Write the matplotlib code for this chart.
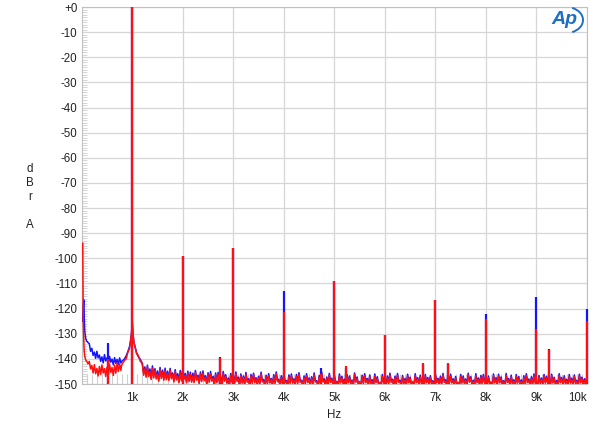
import numpy as np
import matplotlib.pyplot as plt
from matplotlib.patches import Arc

plt.rcParams['font.family'] = ['Liberation Sans', 'DejaVu Sans']

# 低频段 (Hz, dBrA)
freq_lo = [20, 25, 30, 40, 45, 50, 60, 80, 100, 125]
red_lo = [-94, -112, -125, -132, -135, -137, -139, -140.5, -141, -142]
blue_lo = [-125, -122, -119, -116.5, -118, -124, -129, -132, -133, -133.5]

# 150..750 Hz，步长 50：噪声上沿 / 下沿
red_a = [-141.0, -142.6, -142.3, -143.8, -143.0, -142.4, -143.9, -143.3,
         -142.0, -143.4, -142.5, -141.6, -142.0]
red_a_low = [-144.0, -145.6, -145.9, -146.8, -146.2, -145.6, -147.0, -146.5,
             -145.4, -146.6, -145.7, -145.0, -144.6]
blue_a = [-134.0, -135.8, -137.3, -137.0, -138.5, -139.2, -138.3, -139.6,
          -139.0, -140.1, -139.5, -140.2, -139.6]
blue_a_low = [-137.0, -138.6, -139.8, -139.6, -141.0, -141.6, -140.8, -142.0,
              -141.3, -142.4, -141.8, -142.3, -141.6]

# 1 kHz 基波裙边
skirt_freq = [790, 840, 880, 915, 945, 968, 985, 995, 1000, 1005, 1015, 1032, 1055, 1085, 1120, 1160, 1190]
red_skirt = [-142.5, -140.8, -140.0, -137.2, -136.0, -132.8, -130.3, -127.0, -125.0,
             -127.2, -130.0, -133.5, -135.0, -138.0, -138.6, -141.0, -141.6]
blue_skirt = [-141.0, -140.2, -138.8, -137.0, -135.2, -132.6, -130.0, -127.0, -125.0,
              -127.0, -130.0, -133.2, -135.3, -137.4, -139.2, -140.2, -141.5]

# 1200..10000 Hz，步长 50：噪声上沿
red_b = [-142.5, -144.0, -143.2, -145.1, -143.8, -144.6, -146.0, -144.2, -145.3, -144.7,
         -145.8, -144.6, -146.3, -145.0, -146.9, -145.4, -144.9, -146.6, -145.7, -146.2,
         -146.8, -145.3, -147.2, -146.0, -145.6, -147.5, -146.3, -145.9, -147.8, -146.4,
         -146.1, -147.9, -145.8, -147.0, -148.2, -146.5, -147.3, -145.9, -148.0, -146.7,
         -147.4, -146.2, -148.5, -147.0, -146.3, -148.1, -147.6, -146.0, -148.8, -147.2,
         -146.6, -148.3, -147.1, -145.9, -148.6, -147.4, -146.5, -149.0, -147.2, -146.8,
         -148.4, -147.0, -146.2, -148.9, -147.5, -146.7, -148.2, -147.8, -146.4, -149.1,
         -147.3, -146.1, -148.6, -147.9, -146.5, -148.3, -147.0, -149.2, -146.8, -147.6,
         -148.7, -146.9, -147.4, -148.8, -146.3, -147.9, -149.0, -147.2, -146.6, -148.4,
         -147.1, -148.9, -146.7, -147.8, -149.3, -146.9, -148.2, -147.5, -146.4, -148.7,
         -147.6, -146.5, -149.1, -147.3, -148.4, -146.8, -147.9, -149.0, -146.6, -148.1,
         -147.2, -148.8, -146.9, -148.0, -147.4, -149.2, -146.7, -148.3, -147.6, -146.5,
         -148.9, -147.1, -146.8, -148.5, -147.7, -149.3, -146.9, -147.5, -148.6, -146.4,
         -147.8, -149.0, -146.6, -148.2, -147.3, -146.9, -148.8, -147.5, -149.1, -146.7,
         -148.1, -146.8, -147.9, -149.2, -146.5, -148.4, -147.2, -148.9, -146.9, -147.7,
         -149.0, -147.4, -146.6, -148.6, -147.8, -146.7, -149.1, -147.3, -148.2, -146.9,
         -147.6, -148.8, -146.8, -147.9, -149.2, -146.6, -148.0, -147.4, -148.7, -146.9,
         -148.3, -147.1, -149.0, -146.8, -147.9, -148.5, -147.2]
# 噪声下沿
red_b_low = [-146.5, -147.3, -147.0, -148.2, -147.6, -148.0, -148.9, -147.8, -148.5, -148.3,
             -148.6, -147.9, -149.2, -148.4, -149.5, -148.8, -148.1, -149.6, -149.0, -149.3,
             -149.4, -148.5, -149.8, -149.0, -148.7, -150.2, -149.3, -148.9, -150.4, -149.5,
             -149.1, -150.3, -148.9, -149.8, -150.5, -149.4, -150.0, -149.0, -150.6, -149.7,
             -150.2, -149.3, -150.7, -149.8, -149.5, -150.4, -150.0, -149.2, -150.8, -149.9,
             -149.6, -150.5, -149.9, -149.1, -150.6, -150.1, -149.4, -150.9, -149.8, -149.7,
             -150.4, -149.8, -149.3, -150.8, -150.0, -149.5, -150.3, -150.1, -149.2, -150.9,
             -150.0, -149.2, -150.6, -150.2, -149.4, -150.5, -149.9, -150.9, -149.6, -150.1,
             -150.7, -149.6, -150.0, -150.8, -149.3, -150.3, -150.9, -149.9, -149.5, -150.5,
             -149.9, -150.8, -149.5, -150.2, -150.9, -149.7, -150.4, -150.0, -149.3, -150.7,
             -150.1, -149.4, -150.9, -149.9, -150.5, -149.6, -150.2, -150.8, -149.5, -150.3,
             -149.8, -150.7, -149.6, -150.3, -150.0, -150.9, -149.5, -150.4, -150.1, -149.4,
             -150.8, -149.9, -149.6, -150.5, -150.1, -150.9, -149.7, -150.0, -150.6, -149.3,
             -150.2, -150.9, -149.5, -150.4, -149.9, -149.7, -150.7, -150.0, -150.9, -149.6,
             -150.4, -149.6, -150.2, -150.9, -149.4, -150.5, -149.9, -150.8, -149.7, -150.1,
             -150.9, -150.0, -149.5, -150.6, -150.2, -149.6, -150.9, -149.9, -150.4, -149.7,
             -150.1, -150.8, -149.6, -150.2, -150.9, -149.5, -150.3, -150.0, -150.7, -149.7,
             -150.5, -149.8, -150.9, -149.6, -150.2, -150.6, -149.9]
blue_b = [-141.6, -143.2, -142.5, -144.0, -142.8, -143.9, -144.8, -143.4, -144.5, -143.7,
          -144.9, -143.8, -145.6, -144.3, -145.9, -144.6, -144.1, -145.8, -144.9, -145.3,
          -145.7, -144.6, -146.5, -145.2, -144.8, -146.7, -145.5, -145.0, -147.0, -145.6,
          -145.4, -147.1, -145.0, -146.3, -147.6, -145.8, -146.6, -145.2, -147.3, -146.0,
          -146.8, -145.4, -147.9, -146.2, -145.7, -147.5, -146.9, -145.3, -148.2, -146.5,
          -145.9, -147.8, -146.3, -145.2, -148.1, -146.7, -145.8, -148.6, -146.4, -146.0,
          -147.9, -146.2, -145.5, -148.5, -146.8, -145.9, -147.6, -147.1, -145.6, -148.7,
          -146.6, -145.3, -148.0, -147.2, -145.8, -147.7, -146.3, -148.9, -146.0, -146.9,
          -148.1, -146.2, -146.8, -148.4, -145.6, -147.2, -149.6, -146.5, -145.9, -147.8,
          -146.4, -148.3, -146.0, -147.1, -149.8, -146.2, -147.6, -146.8, -145.7, -148.1,
          -146.9, -145.8, -148.5, -146.6, -147.8, -146.1, -147.3, -149.7, -145.9, -147.5,
          -146.5, -148.2, -146.2, -147.4, -146.7, -148.7, -146.0, -147.7, -146.9, -145.8,
          -148.3, -146.4, -146.1, -147.9, -147.0, -149.8, -146.2, -146.8, -148.0, -145.7,
          -147.1, -148.5, -145.9, -147.6, -146.6, -146.2, -148.2, -146.8, -149.6, -146.0,
          -147.5, -146.1, -147.2, -148.7, -145.8, -147.8, -146.5, -148.3, -146.2, -147.0,
          -148.4, -146.7, -145.9, -148.0, -147.1, -146.0, -149.7, -146.6, -147.6, -146.2,
          -146.9, -148.2, -146.1, -147.3, -148.6, -145.9, -147.4, -146.7, -148.1, -146.2,
          -147.7, -146.4, -148.5, -146.1, -147.3, -147.9, -146.5]
blue_b_low = [-145.8, -146.9, -146.4, -147.6, -146.8, -147.5, -148.3, -147.1, -148.0, -147.6,
              -148.1, -147.3, -148.7, -147.9, -149.0, -148.2, -147.6, -149.1, -148.5, -148.8,
              -148.9, -147.9, -149.4, -148.5, -148.1, -149.7, -148.8, -148.3, -150.0, -149.0,
              -148.6, -149.9, -148.3, -149.3, -150.2, -148.9, -149.5, -148.4, -150.3, -149.2,
              -149.8, -148.7, -150.4, -149.3, -148.9, -150.0, -149.6, -148.6, -150.6, -149.4,
              -149.1, -150.2, -149.4, -148.5, -150.3, -149.6, -148.9, -150.7, -149.3, -149.2,
              -150.0, -149.3, -148.7, -150.5, -149.5, -148.9, -149.9, -149.6, -148.6, -150.7,
              -149.5, -148.6, -150.3, -149.8, -148.8, -150.1, -149.4, -150.7, -149.0, -149.6,
              -150.4, -149.0, -149.5, -150.5, -148.7, -149.9, -150.7, -149.4, -148.9, -150.2,
              -149.4, -150.5, -149.0, -149.8, -150.7, -149.2, -150.0, -149.5, -148.7, -150.4,
              -149.7, -148.9, -150.6, -149.4, -150.1, -149.1, -149.8, -150.6, -148.9, -149.9,
              -149.3, -150.4, -149.1, -149.9, -149.5, -150.7, -149.0, -150.0, -149.6, -148.8,
              -150.5, -149.4, -149.1, -150.2, -149.7, -150.8, -149.2, -149.5, -150.3, -148.8,
              -149.8, -150.6, -149.0, -150.0, -149.4, -149.2, -150.4, -149.5, -150.7, -149.1,
              -150.1, -149.1, -149.8, -150.7, -148.9, -150.2, -149.4, -150.5, -149.2, -149.7,
              -150.6, -149.5, -149.0, -150.3, -149.8, -149.1, -150.7, -149.4, -150.0, -149.2,
              -149.6, -150.5, -149.1, -149.9, -150.6, -149.0, -150.0, -149.5, -150.4, -149.2,
              -150.2, -149.3, -150.6, -149.1, -149.8, -150.3, -149.4]

# 谐波与杂散尖峰
harm_freq = [530, 1000, 2000, 2730, 3000, 4000, 4730, 5000, 5240, 6000,
             6750, 7000, 7250, 8000, 9000, 9250, 10000]
harm_red = [-140, 0, -99, -139.5, -96, -121.5, -146, -109, -143, -130.5,
            -141.5, -116.5, -141.7, -124, -128, -136.5, -125]
harm_blue = [-133.7, 0, -99, -139.3, -96, -112.8, -143.5, -109, -143.5, -130.5,
             -142, -116.5, -142, -122.3, -115.5, -136, -120]

xtick_vals = [1000, 2000, 3000, 4000, 5000, 6000, 7000, 8000, 9000, 10000]
xtick_labels = ['1k', '2k', '3k', '4k', '5k', '6k', '7k', '8k', '9k', '10k']
ytick_vals = list(range(0, -151, -10))
ytick_labels = ['+0'] + [str(v) for v in ytick_vals[1:]]


def band(f, hi, lo):
    # 上沿与下沿交替，形成噪声带
    x = np.column_stack([f, np.asarray(f) + 25]).ravel()
    y = np.column_stack([hi, lo]).ravel()
    return x, y


freq_a = np.arange(150, 800, 50)
freq_b = np.arange(1200, 10001, 50)
xa, ra = band(freq_a, red_a, red_a_low)
xb, rb = band(freq_b, red_b, red_b_low)
_, ba = band(freq_a, blue_a, blue_a_low)
_, bb = band(freq_b, blue_b, blue_b_low)

freq = np.concatenate([freq_lo, xa, skirt_freq, xb])
red = np.concatenate([red_lo, ra, red_skirt, rb])
blue = np.concatenate([blue_lo, ba, blue_skirt, bb])

c_blue = '#1414ff'
c_red = '#ff1010'

fig = plt.figure(figsize=(6, 4.28), dpi=100)
ax = fig.add_axes([0.1362, 0.1028, 0.8421, 0.8808])

ax.plot(freq, blue, color=c_blue, lw=1.1, zorder=3)
ax.vlines(harm_freq, -150, harm_blue, color=c_blue, lw=1.6, clip_on=False, zorder=3)
ax.plot(freq, red, color=c_red, lw=1.1, zorder=4)
ax.vlines(harm_freq, -150, harm_red, color=c_red, lw=1.6, clip_on=False, zorder=4)

ax.set_xlim(0, 10000)
ax.set_ylim(-150, 0)

ax.set_xticks(xtick_vals)
ax.set_xticklabels(xtick_labels)
ax.get_xticklabels()[-1].set_horizontalalignment('right')
ax.set_yticks(ytick_vals)
ax.set_yticklabels(ytick_labels)
ax.set_xticks(np.arange(100, 10000, 100), minor=True)
ax.set_yticks(np.arange(-150, 0, 1), minor=True)

ax.tick_params(which='major', length=0, labelsize=8.3, labelcolor='#222222')
ax.tick_params(axis='x', which='major', pad=6)
ax.tick_params(axis='y', which='major', pad=3)
ax.tick_params(axis='x', which='minor', direction='in', length=7, width=0.8, color='#cfcfcf')
ax.tick_params(axis='y', which='minor', direction='in', length=3.5, width=0.6, color='#cfcfcf')
ax.grid(True, which='major', color='#d6d6d6', lw=0.9)
ax.set_axisbelow(True)
for s in ax.spines.values():
    s.set_color('#c0c0c0')
    s.set_zorder(1)

fig.text(334 / 600, 1 - 415 / 428, 'Hz', ha='center', va='center', fontsize=8.3, color='#222222')
fig.text(30 / 600, 1 - 197 / 428, 'd\nB\nr\n\nA', ha='center', va='center',
         fontsize=8.3, color='#222222', linespacing=1.2)

# AP 标志
fig.text(564 / 600, 1 - 20 / 428, 'Ap', ha='center', va='center', fontsize=14,
         style='italic', weight='bold', color='#1e6ec8')
fig.add_artist(Arc((566 / 600, 1 - 20 / 428), 34 / 600, 26 / 428, theta1=-70, theta2=70,
                   transform=fig.transFigure, color='#1e6ec8', lw=1.4))

fig.savefig('out.png', dpi=100)
